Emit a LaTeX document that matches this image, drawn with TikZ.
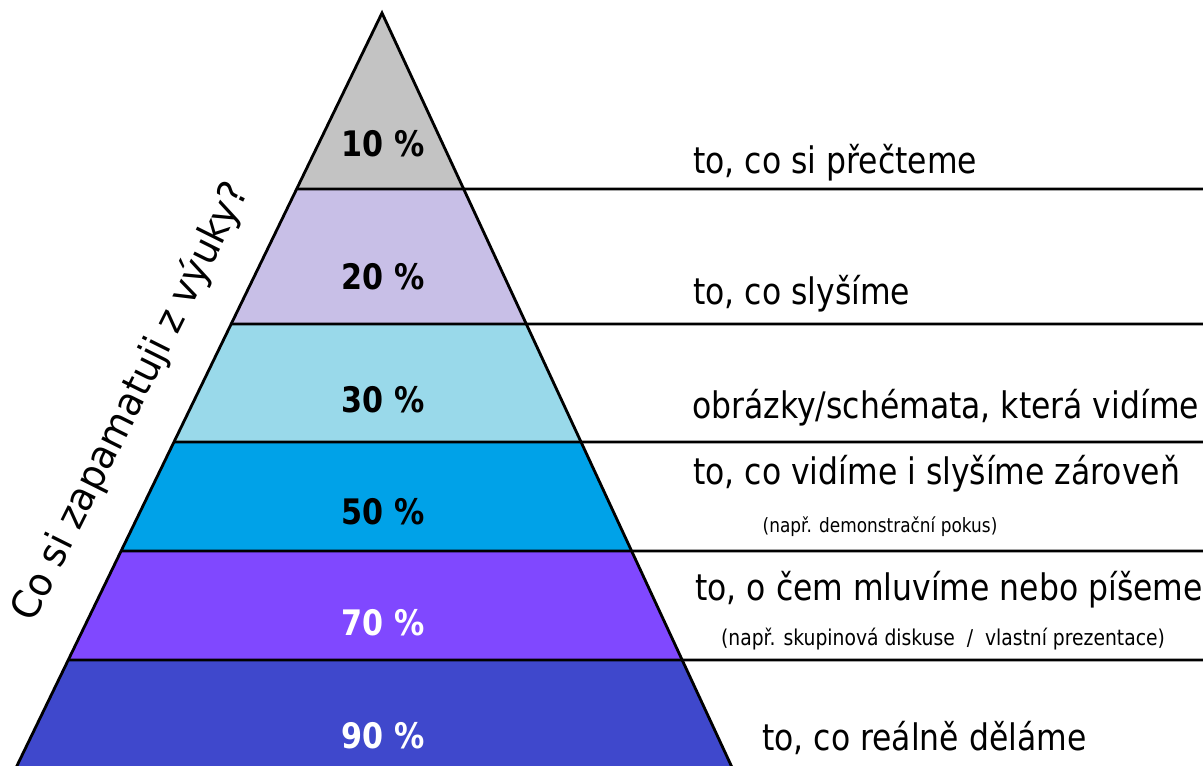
\documentclass[tikz,border=0pt]{standalone}
\usepackage{fontspec}
\setmainfont{DejaVu Sans}[FakeStretch=0.86]
\newfontfamily\titlefont{DejaVu Sans}[FakeStretch=0.95]
\usepackage{xcolor}
\usetikzlibrary{calc}
\definecolor{bandgray}{HTML}{C3C3C3}
\definecolor{bandlav}{HTML}{C8BFE7}
\definecolor{bandsky}{HTML}{99D9EA}
\definecolor{bandblue}{HTML}{00A2E8}
\definecolor{bandviolet}{HTML}{8048FF}
\definecolor{bandindigo}{HTML}{3F48CC}

\begin{document}
\begin{tikzpicture}[
  x=0.025cm, y=-0.025cm,
  pct/.style={font=\fontsize{25}{30}\selectfont\bfseries, anchor=base},
  txt/.style={font=\fontsize{26}{31}\selectfont, anchor=base west, inner sep=0pt},
  note/.style={font=\fontsize{14}{17}\selectfont, anchor=base, inner sep=0pt},
  sep/.style={line width=2pt},
]
  \useasboundingbox (0,0) rectangle (1203,766);
  \coordinate (apex) at (382,13);
  \coordinate (bl) at (12,776);
  \coordinate (br) at (736,776);

  % Bands of the pyramid
  \begin{scope}
    \clip (apex) -- (bl) -- (br) -- cycle;
    \fill[bandgray]   (0,0)   rectangle (1203,189);
    \fill[bandlav]    (0,189) rectangle (1203,324);
    \fill[bandsky]    (0,324) rectangle (1203,442);
    \fill[bandblue]   (0,442) rectangle (1203,551);
    \fill[bandviolet] (0,551) rectangle (1203,660);
    \fill[bandindigo] (0,660) rectangle (1203,780);
  \end{scope}

  % Separators running out to the right
  \foreach \yy in {189,324,442,551,660} {
    \draw[sep] ($(apex)!{(\yy-13)/763}!(bl)$) -- (1203,\yy);
  }
  \draw[sep, line join=miter] (bl) -- (apex) -- (br);

  % Percentages
  \node[pct] (p10) at (383,157) {10 \%};
  \node[pct] (p20) at (383,290) {20 \%};
  \node[pct] (p30) at (383,413) {30 \%};
  \node[pct] (p50) at (383,524) {50 \%};
  \node[pct, text=white] (p70) at (383,635) {70 \%};
  \node[pct, text=white] (p90) at (383,748) {90 \%};

  % Descriptions
  \node[txt] (t10) at (693,174) {to, co si přečteme};
  \node[txt] (t20) at (693,305) {to, co slyšíme};
  \node[txt] (t30) at (692,419) {obrázky/schémata, která vidíme};
  \node[txt] (t50) at (693,485) {to, co vidíme i slyšíme zároveň};
  \node[note] (n50) at (880,533) {(např. demonstrační pokus)};
  \node[txt] (t70) at (695,600) {to, o čem mluvíme nebo píšeme};
  \node[note, font=\fontsize{15.5}{18}\selectfont] (n70) at (943,645)
    {(např. skupinová diskuse \ / \ vlastní prezentace)};
  \node[txt] (t90) at (762,750) {to, co reálně děláme};

  % Rotated question
  \node[font=\fontsize{28}{33}\titlefont, rotate=63.5] (title) at (131,402)
    {Co si zapamatuji z výuky?};
\end{tikzpicture}
\end{document}
